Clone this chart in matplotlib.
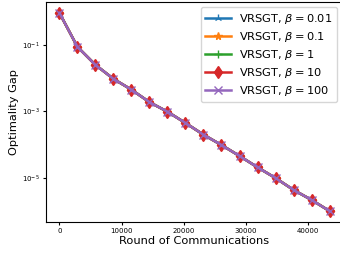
import matplotlib
matplotlib.use("Agg")
from matplotlib import pyplot as plt

rounds = [0, 2900, 5800, 8700, 11600, 14500, 17400, 20300, 23200, 26100,
          29000, 31900, 34800, 37700, 40600, 43500]
gap = [0.91, 0.087, 0.025, 0.0095, 0.0045, 0.0019, 0.00098, 0.00045,
       0.00020, 0.000098, 0.000046, 0.000021, 0.0000100, 0.0000044,
       0.0000022, 0.00000102]

betas = ["0.01", "0.1", "1", "10", "100"]
markers = ["2", "*", "+", "d", "x"]
sizes = [5.5, 5.5, 5.5, 6.5, 5.5]

fig = plt.figure(figsize=(3.4, 2.54), dpi=100)
ax = fig.add_axes([0.135, 0.126, 0.874, 0.868])

for i, b in enumerate(betas):
    ax.plot(rounds, gap, marker=markers[i], markersize=sizes[i], linewidth=1.8,
            color="C%d" % i, label=r"VRSGT, $\beta=%s$" % b)

ax.set_yscale("log")
ax.set_xlim(-2175, 45675)
ax.set_ylim(10 ** -6.32, 10 ** 0.3)
ax.set_yticks([1e-1, 1e-3, 1e-5])
ax.minorticks_off()
ax.tick_params(labelsize=5, length=2.5, pad=2)
ax.set_xticks([0, 10000, 20000, 30000, 40000])
ax.set_xlabel("Round of Communications", fontsize=8.2, labelpad=1.5)
ax.set_ylabel("Optimality Gap", fontsize=8.2, labelpad=2)
ax.legend(loc="upper right", fontsize=8.2, handlelength=2.3,
          labelspacing=0.35, borderpad=0.4, handletextpad=0.7)

plt.savefig("out.png")
